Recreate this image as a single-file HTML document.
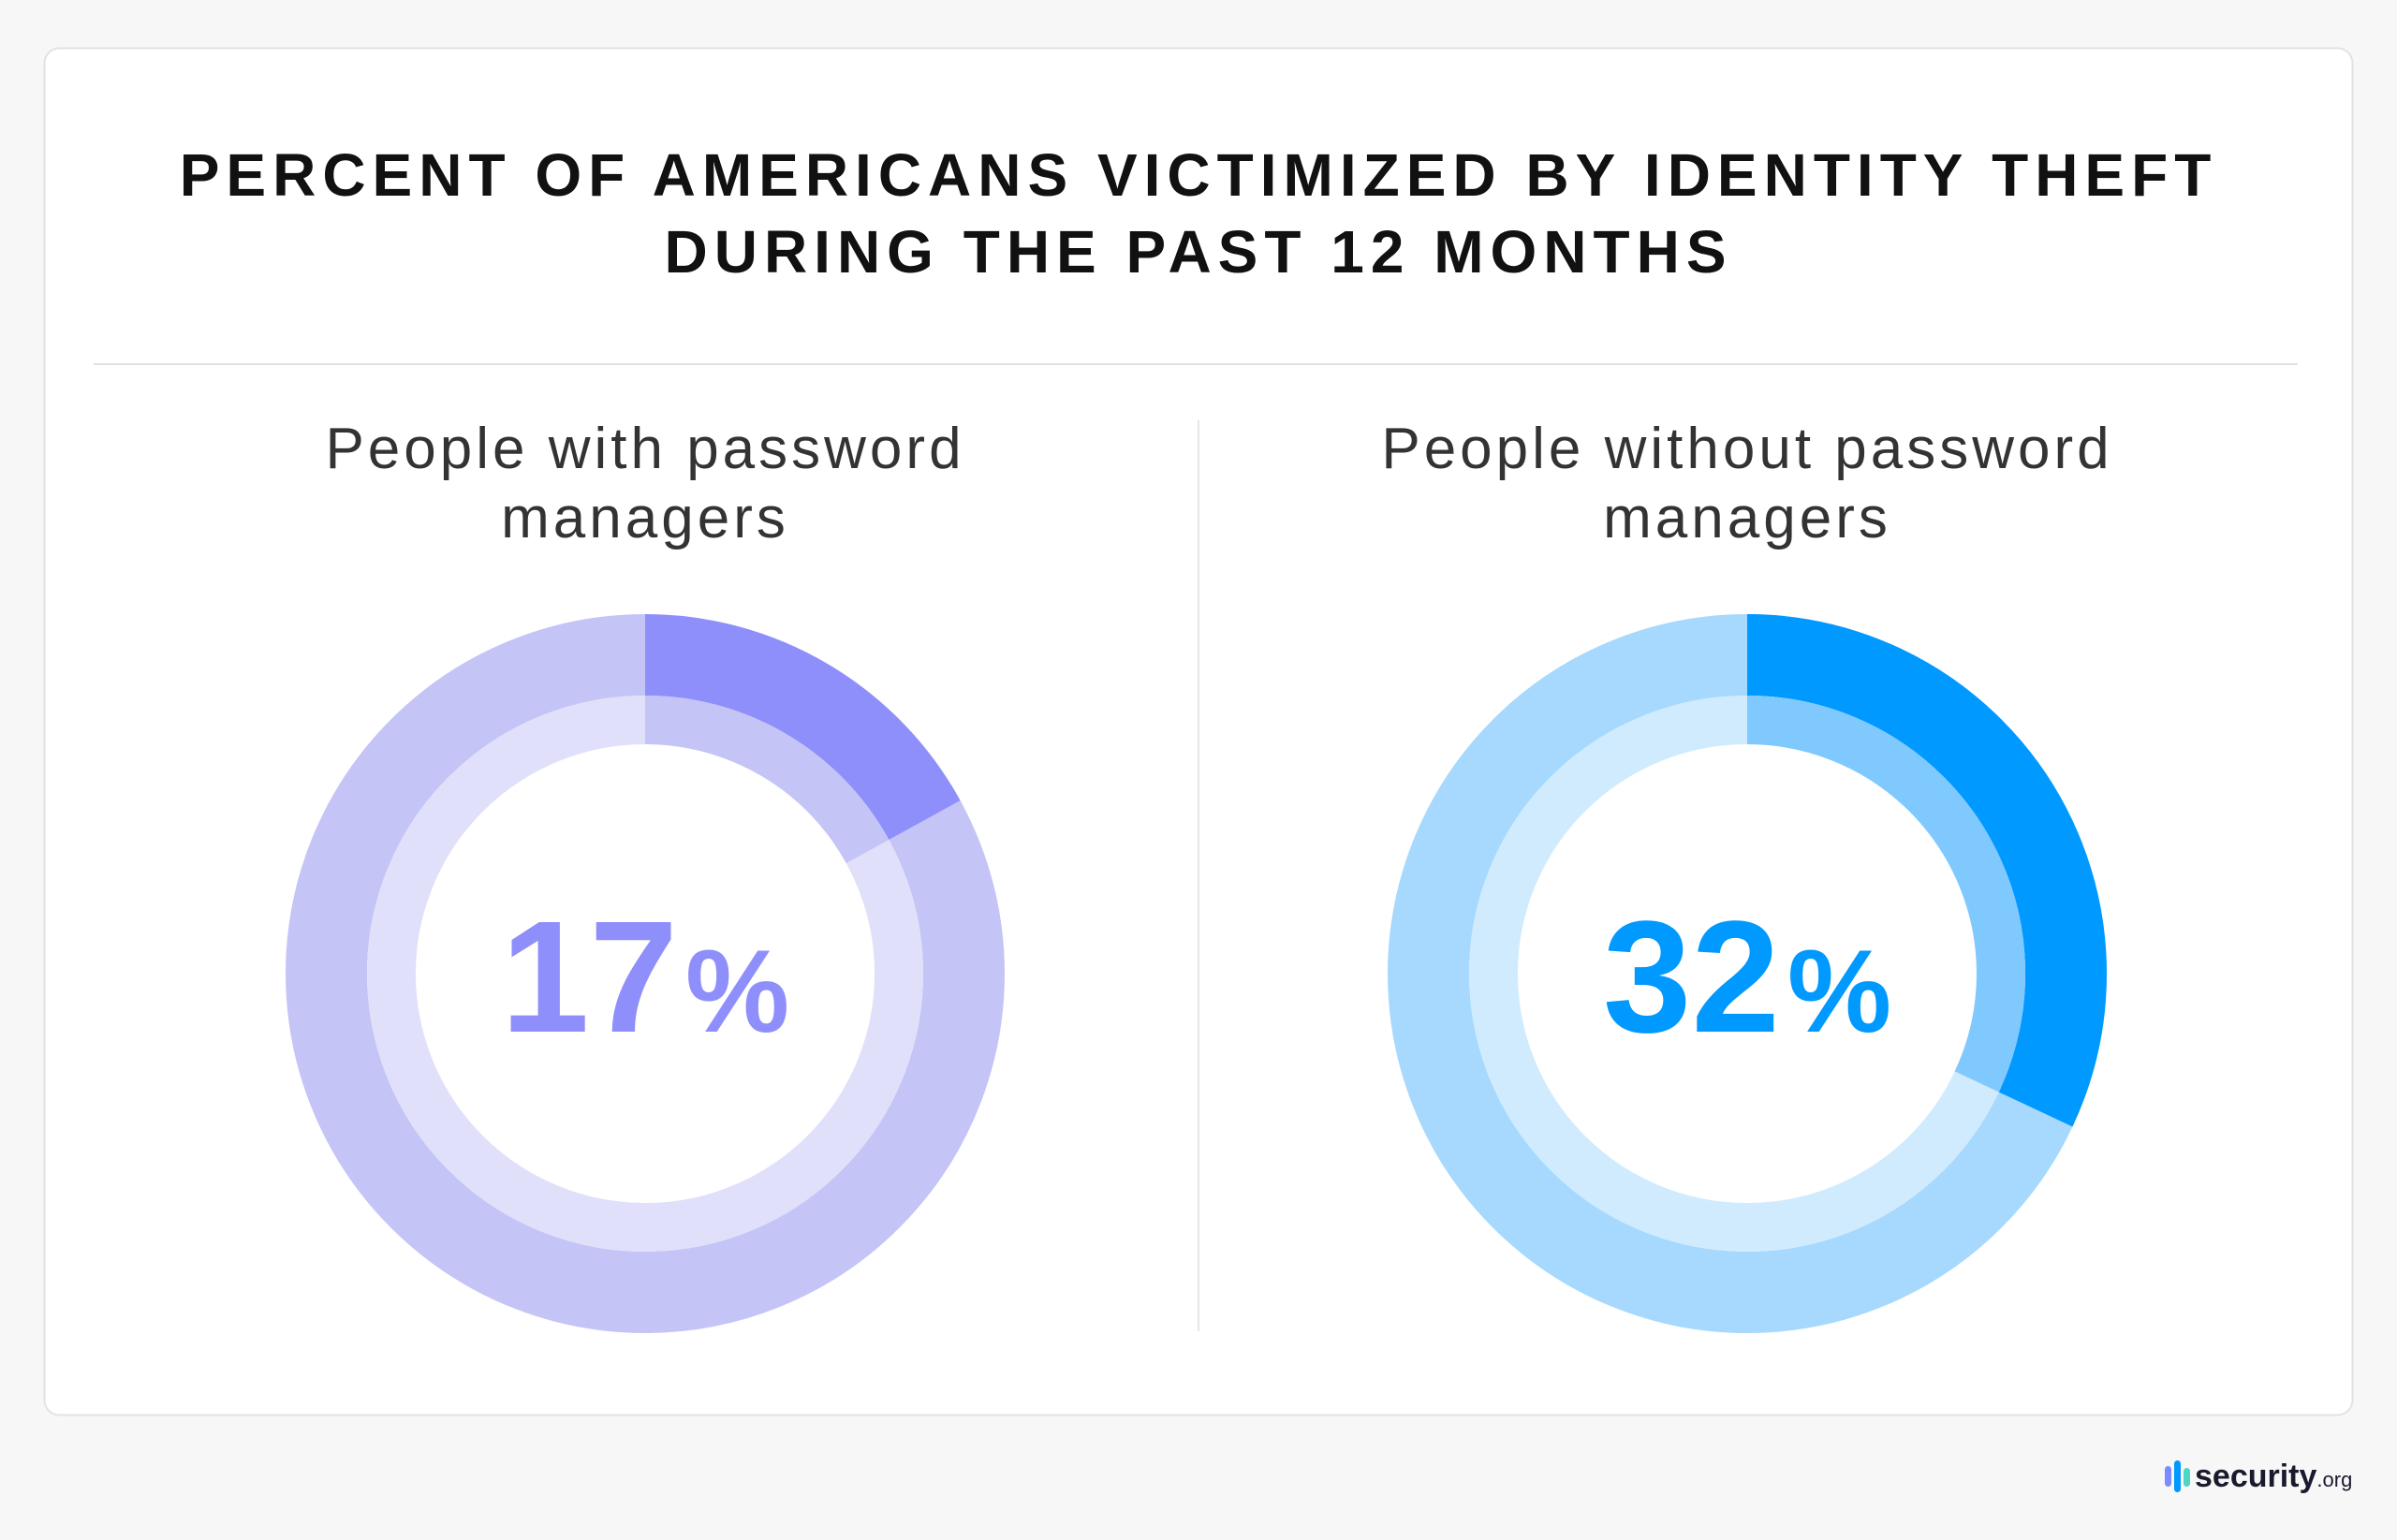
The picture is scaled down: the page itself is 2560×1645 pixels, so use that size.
<!DOCTYPE html>
<html><head><meta charset="utf-8"><style>
html,body{margin:0;padding:0;background:#f7f7f7;}
svg{display:block;}
text{font-family:"Liberation Sans",sans-serif;}
</style></head><body>
<svg width="2560" height="1645" viewBox="0 0 2560 1645" xmlns="http://www.w3.org/2000/svg">
<rect x="0" y="0" width="2560" height="1645" fill="#f7f7f7"/>
<rect x="47.5" y="51.5" width="2465" height="1460" rx="16" fill="#ffffff" stroke="#e2e2e2" stroke-width="2"/>
<text x="1280" y="209" text-anchor="middle" font-size="64" font-weight="bold" letter-spacing="7" fill="#111">PERCENT OF AMERICANS VICTIMIZED BY IDENTITY THEFT</text>
<text x="1280" y="291" text-anchor="middle" font-size="64" font-weight="bold" letter-spacing="7" fill="#111">DURING THE PAST 12 MONTHS</text>
<line x1="100" y1="389" x2="2454" y2="389" stroke="#e2e2e2" stroke-width="2"/>
<line x1="1280" y1="449" x2="1280" y2="1422" stroke="#e6e6e6" stroke-width="2"/>
<g font-size="62" fill="#333" text-anchor="middle" letter-spacing="4">
<text x="689" y="500">People with password</text>
<text x="689" y="574">managers</text>
<text x="1866" y="500">People without password</text>
<text x="1866" y="574">managers</text>
</g>
<g transform="translate(689,1040) rotate(-90)">
<circle r="340.5" fill="none" stroke="#c4c4f7" stroke-width="87"/>
<circle r="340.5" fill="none" stroke="#8f8ffc" stroke-width="87" stroke-dasharray="363.7 3000"/>
<circle r="271" fill="none" stroke="#e0e0fb" stroke-width="52"/>
<circle r="271" fill="none" stroke="#c4c4f7" stroke-width="52" stroke-dasharray="289.5 3000"/>
</g>
<text x="689" y="1102" text-anchor="middle" font-weight="bold" fill="#8f8ffc"><tspan font-size="170">17</tspan><tspan font-size="125" dx="8">%</tspan></text>
<g transform="translate(1866,1040) rotate(-90)">
<circle r="340.5" fill="none" stroke="#a6d9fd" stroke-width="87"/>
<circle r="340.5" fill="none" stroke="#0099ff" stroke-width="87" stroke-dasharray="684.6 3000"/>
<circle r="271" fill="none" stroke="#d1ebfe" stroke-width="52"/>
<circle r="271" fill="none" stroke="#80c9ff" stroke-width="52" stroke-dasharray="544.9 3000"/>
</g>
<text x="1866" y="1102" text-anchor="middle" font-weight="bold" fill="#0099ff"><tspan font-size="170">32</tspan><tspan font-size="125" dx="8">%</tspan></text>
<g>
<rect x="2312" y="1566" width="7" height="22" rx="3.5" fill="#7b8cff"/>
<rect x="2322" y="1560" width="7" height="34" rx="3.5" fill="#0099ff"/>
<rect x="2332" y="1568" width="7" height="20" rx="3.5" fill="#4dd6c4"/>
<text x="2344" y="1588" font-size="34" font-weight="bold" fill="#1a1a2e">security<tspan font-size="22" font-weight="normal">.org</tspan></text>
</g>
</svg>
</body></html>
